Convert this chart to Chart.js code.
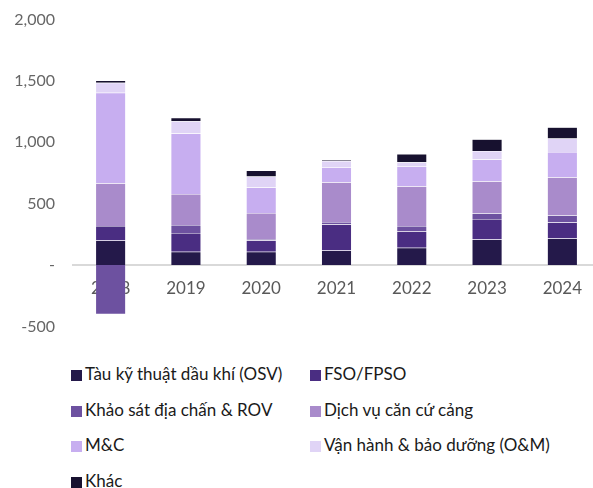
<!DOCTYPE html>
<html>
<head>
<meta charset="utf-8">
<script src="https://cdn.jsdelivr.net/npm/chart.js@4"></script>
<style>
  html, body { margin: 0; padding: 0; background: #fff; overflow: hidden; }
  body { width: 593px; height: 488px; font-family: Lato, sans-serif; }
  #wrap { position: relative; width: 600px; height: 346px; }
  #legend { position: absolute; left: 71px; top: 362px; width: 520px; }
  .item { position: absolute; font-size: 17px; color: #1a1a1a; white-space: nowrap; line-height: 24px; }
  .item span.box { display: inline-block; width: 11px; height: 11px; margin-right: 3px; vertical-align: -1px; }
</style>
</head>
<body>
<div id="wrap"><canvas id="myChart"></canvas></div>
<div id="legend"></div>
<script>
var years = ['2018', '2019', '2020', '2021', '2022', '2023', '2024'];
var seriesNames = ['Tàu kỹ thuật dầu khí (OSV)', 'FSO/FPSO', 'Khảo sát địa chấn & ROV',
    'Dịch vụ căn cứ cảng', 'M&C', 'Vận hành & bảo dưỡng (O&M)', 'Khác'];
var osv = [200, 108, 108, 119, 140, 208, 216];
var fso = [118, 154, 92, 211, 135, 167, 130];
var seismic = [-400, 65, 13, 21, 43, 46, 59];
var basePort = [349, 251, 211, 324, 324, 262, 310];
var mc = [737, 494, 208, 121, 162, 178, 206];
var om = [81, 100, 89, 52, 33, 68, 110];
var other = [19, 29, 49, 8, 68, 97, 92];
var colors = ['#24194a', '#4a2d82', '#6d51a0', '#a98bcb', '#c7aef0', '#e0d4f6', '#17112f'];
var yTicks = [-500, 0, 500, 1000, 1500, 2000];

var allData = [osv, fso, seismic, basePort, mc, om, other];
var datasets = allData.map(function (d, i) {
    return {
        label: seriesNames[i],
        data: d,
        backgroundColor: colors[i],
        borderColor: 'rgba(255,255,255,0.35)',
        borderWidth: 0.5,
        barPercentage: 0.4,
        categoryPercentage: 1
    };
});

var ctx = document.getElementById('myChart').getContext('2d');
var myChart = new Chart(ctx, {
    type: 'bar',
    data: { labels: years, datasets: datasets },
    options: {
        responsive: true,
        maintainAspectRatio: false,
        animation: false,
        layout: { padding: { top: -3, bottom: 5, left: 0, right: 0 } },
        plugins: { legend: { display: false }, tooltip: { enabled: false } },
        scales: {
            x: {
                stacked: true,
                position: { y: 0 },
                z: 1,
                afterFit: function (s) { s.height = 0; },
                grid: { display: false, drawTicks: false },
                border: { display: true, color: '#d9d9d9', width: 2 },
                ticks: { color: '#595959', font: { family: 'Lato', size: 17 }, padding: 13 }
            },
            y: {
                stacked: true,
                min: -500,
                max: 2000,
                afterBuildTicks: function (s) { s.ticks = yTicks.map(function (v) { return { value: v }; }); },
                afterFit: function (s) { s.width = 73; },
                grid: { display: false },
                border: { display: false },
                ticks: {
                    color: '#666',
                    padding: 10,
                    font: { family: 'Lato', size: 16 },
                    callback: function (v) { return v === 0 ? '-' : v.toLocaleString('en-US'); }
                }
            }
        }
    }
});

// legend in two columns
var legend = document.getElementById('legend');
seriesNames.forEach(function (name, i) {
    var el = document.createElement('div');
    el.className = 'item';
    el.style.left = (i % 2 === 0 ? 0 : 239) + 'px';
    el.style.top = (Math.floor(i / 2) * 35.7) + 'px';
    el.innerHTML = '<span class="box" style="background:' + colors[i] + '"></span>';
    el.appendChild(document.createTextNode(name));
    legend.appendChild(el);
});
</script>
</body>
</html>
